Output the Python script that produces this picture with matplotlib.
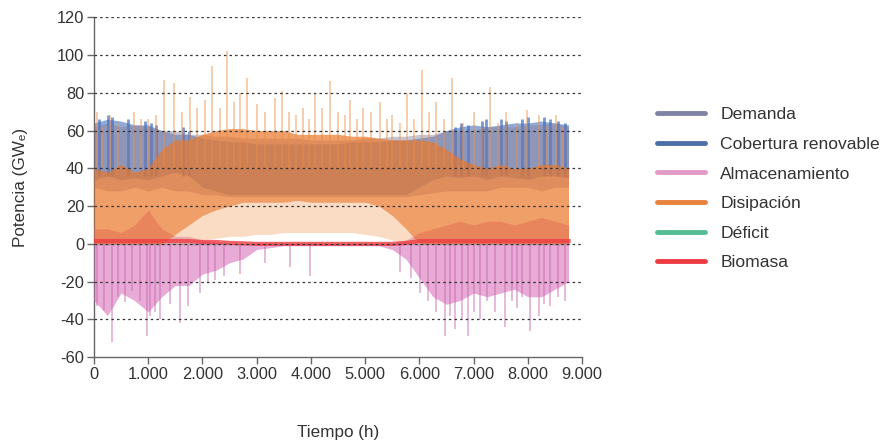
import matplotlib
matplotlib.use("Agg")
import matplotlib.pyplot as plt
import numpy as np
from matplotlib.lines import Line2D
from matplotlib.ticker import FuncFormatter

plt.rcParams['font.family'] = ['Liberation Sans', 'DejaVu Sans']
plt.rcParams['axes.unicode_minus'] = False

# ===== Data (envelope every 250 h) =====
hours = np.arange(0, 8760, 250)

demanda_lo = [30, 28, 28, 30, 28, 30, 28, 28, 26, 26, 25, 25, 25, 25, 25, 25, 25, 25,
              25, 25, 25, 25, 25, 25, 26, 27, 28, 28, 28, 28, 30, 30, 30, 28, 30, 30]
demanda_hi = [62, 64, 62, 63, 62, 60, 60, 58, 58, 57, 57, 56, 56, 56, 56, 56, 55, 55,
              55, 55, 56, 56, 57, 57, 58, 58, 60, 60, 60, 62, 62, 62, 63, 63, 64, 62]

cobertura_lo = [34, 36, 34, 35, 34, 36, 38, 36, 30, 28, 26, 26, 26, 26, 26, 26, 26, 26,
                26, 26, 26, 26, 26, 26, 30, 34, 36, 35, 36, 34, 36, 35, 34, 36, 36, 35]
cobertura_hi = [64, 66, 65, 63, 63, 60, 58, 58, 56, 55, 54, 54, 53, 53, 53, 53, 53, 53,
                53, 54, 54, 54, 55, 55, 56, 57, 60, 62, 63, 62, 63, 64, 64, 65, 64, 63]

almac_lo = [-30, -38, -26, -30, -36, -28, -22, -22, -16, -14, -10, -8, -3, -2, -1, -1, -1, -1,
            -1, -1, -1, -1, -3, -8, -18, -28, -32, -30, -26, -28, -26, -24, -28, -28, -24, -20]
almac_hi = [8, 8, 6, 10, 18, 8, 4, 4, 2, 1, 0, 0, 0, 0, 0, 0, 0, 0,
            0, 0, 0, 0, 0, 2, 6, 8, 10, 12, 10, 12, 12, 10, 12, 14, 12, 10]

disip_min = [0, 0, 0, 0, 0, 0, 0, 0, 2, 3, 4, 4, 5, 5, 6, 6, 6, 6,
             6, 6, 5, 4, 2, 0, 0, 0, 0, 0, 0, 0, 0, 0, 0, 0, 0, 0]
disip_lo = [0, 0, 0, 0, 0, 0, 5, 10, 15, 18, 20, 22, 22, 22, 22, 23, 22, 22,
            22, 22, 22, 20, 15, 8, 0, 0, 0, 0, 0, 0, 0, 0, 0, 0, 0, 0]
disip_hi = [40, 38, 42, 38, 40, 50, 55, 55, 58, 60, 61, 61, 60, 60, 60, 58, 58, 58,
            58, 57, 57, 56, 55, 55, 55, 54, 50, 45, 42, 40, 42, 40, 40, 42, 42, 40]

biomasa = [1.5, 1.5, 1.5, 1.5, 1.5, 1.5, 1.5, 1.5, 1.0, 1.0, 0.5, 0.3, 0, 0, 0, 0, 0, 0,
           0, 0, 0, 0, 0, 0.5, 1.5, 1.5, 1.5, 1.5, 1.5, 1.5, 1.5, 1.5, 1.5, 1.5, 1.5, 1.5]
deficit = [0] * len(hours)

# peaks of single hourly spikes
disip_peak_h = [55, 150, 300, 450, 738, 860, 1000, 1150, 1290, 1475, 1620, 1770, 1900, 2050,
                2176, 2330, 2452, 2580, 2692, 2821, 3000, 3150, 3338, 3467, 3600, 3720,
                3854, 3960, 4075, 4200, 4352, 4500, 4620, 4720, 4850, 4960, 5100, 5274,
                5400, 5500, 5640, 5772, 5900, 6048, 6180, 6300, 6450, 6602, 6800, 7000,
                7150, 7302, 7450, 7600, 7800, 7985, 8200, 8350, 8519, 8650]
disip_peak_v = [70, 62, 68, 64, 70, 66, 66, 68, 87, 85, 70, 78, 72, 76,
                94, 72, 102, 75, 80, 88, 74, 70, 77, 81, 70, 68,
                72, 66, 80, 72, 86, 70, 68, 76, 66, 72, 70, 75,
                66, 68, 64, 80, 66, 92, 70, 75, 66, 88, 64, 70,
                62, 83, 64, 70, 64, 71, 68, 62, 68, 62]

cobertura_peak_h = [100, 260, 330, 620, 950, 1050, 1150, 1650, 1760,
                    6650, 6760, 6900, 7150, 7230, 7500, 7600, 7900, 8000, 8300, 8400, 8560, 8680]
cobertura_peak_v = [66, 68, 67, 66, 65, 64, 63, 62, 60,
                    62, 64, 63, 65, 66, 66, 65, 66, 67, 67, 66, 65, 64]

almac_peak_h = [55, 185, 332, 450, 570, 700, 850, 980, 1033, 1120, 1217, 1400, 1586, 1740,
                1955, 2100, 2231, 2400, 2692, 3153, 3614, 3983, 5643, 5850, 6011, 6150,
                6300, 6472, 6560, 6657, 6780, 6897, 7000, 7118, 7250, 7400, 7579, 7700,
                7800, 7900, 8040, 8200, 8300, 8408, 8560, 8685]
almac_peak_v = [-33, -35, -52, -28, -31, -25, -30, -49, -38, -36, -40, -32, -42, -33,
                -26, -20, -19, -17, -16, -10, -12, -17, -15, -18, -26, -30,
                -36, -49, -38, -45, -40, -49, -36, -40, -30, -36, -44, -30,
                -34, -28, -46, -38, -32, -33, -28, -30]

# ===== Plot =====
fig = plt.figure(figsize=(8.86, 4.41), dpi=100)
ax = fig.add_axes([0.106, 0.190, 0.551, 0.771])

c_dem = "#8083a6"
c_cob = "#4b6fa8"
c_alm = "#e29ac6"
c_dis = "#e8833e"
c_def = "#55bd96"
c_bio = "#ee3b43"

ax.plot(hours, deficit, color=c_def, lw=1, zorder=1)
ax.fill_between(hours, cobertura_lo, cobertura_hi, color="#4a72bb", alpha=0.6, lw=0, zorder=2)
ax.vlines(cobertura_peak_h, 36, cobertura_peak_v, color="#3f6cc0", alpha=0.7, lw=2, zorder=2)
ax.fill_between(hours, demanda_lo, demanda_hi, color="#85809c", alpha=0.45, lw=0, zorder=3)
ax.fill_between(hours, almac_lo, almac_hi, color="#d774bb", alpha=0.6, lw=0, zorder=4)
ax.vlines(almac_peak_h, 0, almac_peak_v, color="#c865ad", alpha=0.45, lw=1.4, zorder=4)
ax.fill_between(hours, disip_min, disip_lo, color="#f4b27c", alpha=0.45, lw=0, zorder=5)
ax.fill_between(hours, disip_lo, disip_hi, color="#ea762a", alpha=0.7, lw=0, zorder=5)
ax.vlines(disip_peak_h, 40, disip_peak_v, color="#ec8d45", alpha=0.45, lw=1.4, zorder=5)
ax.plot(hours, biomasa, color=c_bio, lw=3, alpha=0.8, zorder=6)

ax.set_xlim(0, 9000)
ax.set_ylim(-60, 120)
ax.set_xticks(np.arange(0, 9001, 1000))
ax.set_yticks(np.arange(-60, 121, 20))
ax.xaxis.set_major_formatter(FuncFormatter(lambda v, p: f"{int(v):,}".replace(",", ".")))
for y in range(-40, 121, 20):
    ax.axhline(y, color="#333333", lw=0.9, linestyle=(0, (2, 2.5)), zorder=7)

for s in ["top", "right"]:
    ax.spines[s].set_visible(False)
for s in ["left", "bottom"]:
    ax.spines[s].set_color("#666666")
    ax.spines[s].set_linewidth(1.0)
ax.tick_params(direction="out", length=5, width=1, color="#666666",
               labelsize=11.8, labelcolor="#333333", pad=2)

ax.set_xlabel("Tiempo (h)", fontsize=12.3, color="#333333", labelpad=31)
ax.set_ylabel("Potencia (GWₑ)", fontsize=12.3, color="#333333", labelpad=21)

handles = [Line2D([], [], color=c, lw=3.5, solid_capstyle="round")
           for c in [c_dem, c_cob, c_alm, c_dis, c_def, c_bio]]
labels = ["Demanda", "Cobertura renovable", "Almacenamiento", "Disipación", "Déficit", "Biomasa"]
fig.legend(handles, labels, loc="upper left", bbox_to_anchor=(0.742, 0.757),
           frameon=False, fontsize=12.6, handlelength=2.7, handletextpad=0.9,
           labelspacing=0.82, borderpad=0, borderaxespad=0, labelcolor="#333333")

fig.savefig("out.png", dpi=100)
